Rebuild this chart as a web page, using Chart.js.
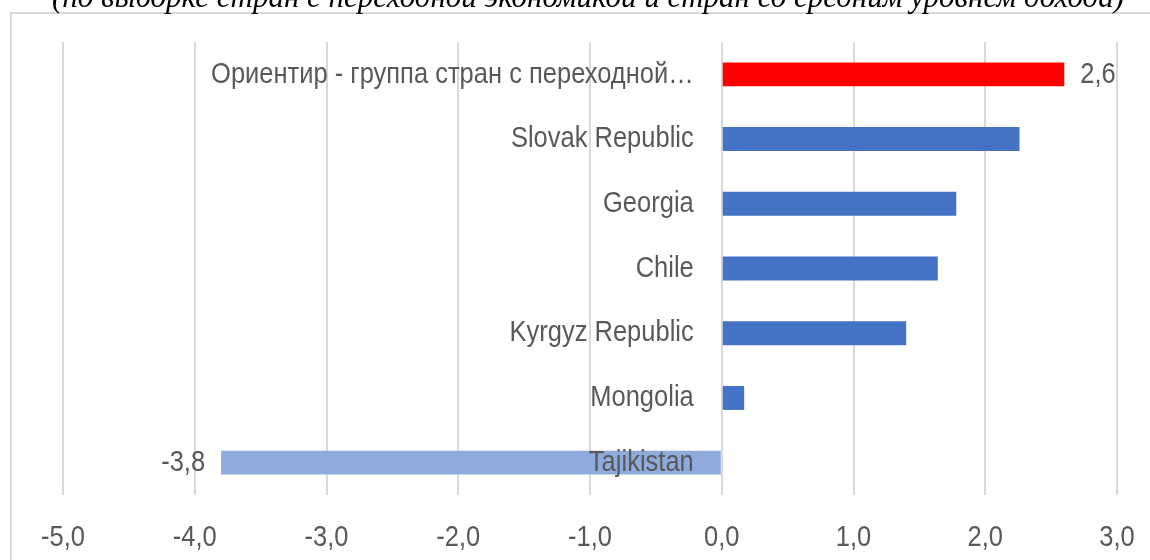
<!DOCTYPE html>
<html>
<head>
<meta charset="utf-8">
<script src="https://cdn.jsdelivr.net/npm/chart.js@4"></script>
<style>
  html, body { margin: 0; padding: 0; background: #fff; overflow: hidden; }
  #wrap { position: relative; width: 1150px; height: 560px; overflow: hidden; }
  #frame { position: absolute; left: 10px; top: 12px; width: 1200px; height: 600px;
           border: 2px solid #d9d9d9; pointer-events: none; }
  #title { position: absolute; left: 13px; top: -19px; width: 1150px; text-align: center;
           font: italic 31px "Liberation Serif", "Times New Roman", serif; line-height: 31px;
           color: #000; white-space: nowrap; }
</style>
</head>
<body>
<div id="wrap">
  <div id="frame"></div>
  <canvas id="chart" width="1150" height="560"></canvas>
  <div id="title">(по выборке стран с переходной экономикой и стран со средним уровнем дохода)</div>
</div>
<script>
const categories = [
  'Ориентир - группа стран с переходной…',
  'Slovak Republic',
  'Georgia',
  'Chile',
  'Kyrgyz Republic',
  'Mongolia',
  'Tajikistan'
];
const values = [2.6, 2.26, 1.78, 1.64, 1.4, 0.17, -3.8];
const barColors = ['#FF0000', '#4472C4', '#4472C4', '#4472C4', '#4472C4', '#4472C4', '#8FAADC'];
// only these bars carry a value label
const labelledBars = [0, 6];

const TEXT = '#595959';
const fmt = v => v.toFixed(1).replace('.', ',');

// narrow sans look: Liberation Sans squeezed horizontally
function narrowText(ctx, str, x, y, align) {
  ctx.save();
  ctx.translate(x, y);
  ctx.scale(0.85, 1);
  ctx.textAlign = align;
  ctx.fillText(str, 0, 0);
  ctx.restore();
}

// category names sit just left of the zero line, value labels at bar ends,
// x tick labels under the plot
const labelsPlugin = {
  id: 'narrowLabels',
  afterDatasetsDraw(chart) {
    const { ctx, chartArea, scales: { x, y } } = chart;
    const zero = x.getPixelForValue(0);
    ctx.save();
    ctx.font = '30px "Liberation Sans", Arial, sans-serif';
    ctx.fillStyle = TEXT;
    ctx.textBaseline = 'middle';
    categories.forEach((c, i) => {
      narrowText(ctx, c, zero - 28, y.getPixelForValue(i), 'right');
    });
    labelledBars.forEach(i => {
      const v = values[i];
      const px = x.getPixelForValue(v);
      narrowText(ctx, fmt(v), px + (v >= 0 ? 16 : -16), y.getPixelForValue(i), v >= 0 ? 'left' : 'right');
    });
    x.ticks.forEach(t => {
      narrowText(ctx, fmt(t.value), x.getPixelForValue(t.value), chartArea.bottom + 43, 'center');
    });
    ctx.restore();
  }
};

new Chart(document.getElementById('chart'), {
  type: 'bar',
  data: {
    labels: categories,
    datasets: [{
      data: values,
      backgroundColor: barColors,
      categoryPercentage: 1,
      barPercentage: 0.37
    }]
  },
  options: {
    indexAxis: 'y',
    responsive: false,
    animation: false,
    layout: { padding: { left: 63, right: 33, top: 42, bottom: 0 } },
    plugins: { legend: { display: false }, tooltip: { enabled: false } },
    scales: {
      x: {
        min: -5,
        max: 3,
        ticks: { stepSize: 1, display: false },
        grid: { color: '#d9d9d9', lineWidth: 2, drawTicks: false },
        border: { display: false },
        afterFit(s) {
          s.height = 65;
          s.paddingLeft = 0;
          s.paddingRight = 0;
        }
      },
      y: {
        display: false
      }
    }
  },
  plugins: [labelsPlugin]
});
</script>
</body>
</html>
